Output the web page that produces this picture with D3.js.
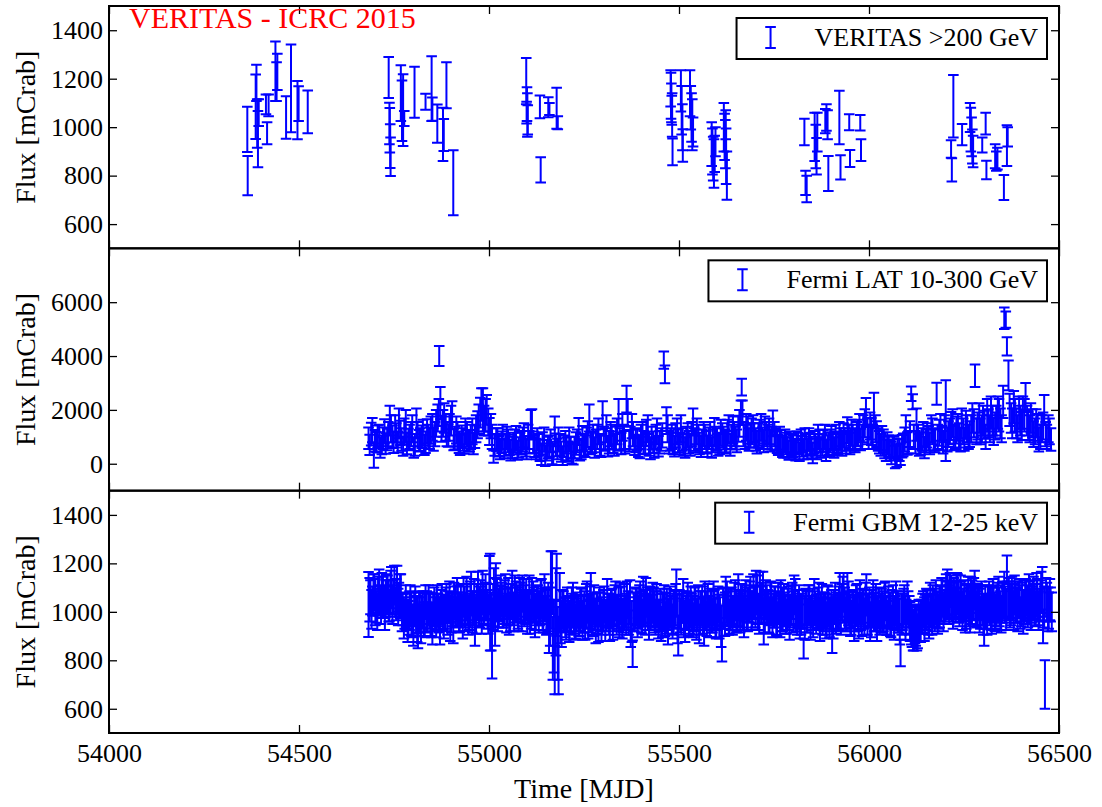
<!DOCTYPE html>
<html>
<head>
<meta charset="utf-8">
<script src="https://cdn.jsdelivr.net/npm/d3@7"></script>
<style>
  body { margin: 0; background: #fff; }
  text { font-family: "Liberation Serif", "DejaVu Serif", serif; fill: #000; }
</style>
</head>
<body>
<div id="chart"></div>
<script>
// 1: DATA  ([MJD, flux mCrab, error])
const veritasRows = [
  [54364, 991, 93], [54365, 800, 81], [54386, 1084, 133], [54388, 1183, 75], [54390, 1015, 100],
  [54392, 951, 116], [54394, 1060, 55], [54413, 1094, 41], [54416, 975, 45], [54420, 1090, 45],
  [54438, 1231, 123], [54441, 1188, 80], [54443, 1228, 75], [54466, 1040, 88], [54479, 1160, 181],
  [54496, 1070, 120], [54499, 1097, 72], [54523, 1063, 88],
  [54736, 1205, 85], [54738, 1015, 86], [54739, 987, 92], [54740, 922, 90], [54741, 878, 79],
  [54768, 1140, 115], [54771, 1068, 125], [54774, 1070, 148], [54777, 1036, 31], [54804, 1144, 105],
  [54833, 1105, 33], [54849, 1159, 134], [54851, 1074, 48], [54864, 1015, 79], [54879, 970, 110],
  [54881, 968, 66], [54888, 1173, 95], [54906, 771, 134],
  [55098, 1190, 95], [55099, 1060, 45], [55100, 1095, 70], [55101, 1050, 90], [55102, 1030, 60],
  [55134, 1084, 47], [55136, 824, 52], [55156, 1082, 41], [55159, 1075, 25], [55178, 1078, 85],
  [55181, 1018, 27],
  [55478, 1160, 75], [55479, 1130, 95], [55480, 1100, 80], [55481, 1070, 60], [55482, 1050, 90],
  [55483, 898, 55], [55505, 1150, 85], [55507, 1070, 100], [55509, 1000, 95], [55510, 924, 67],
  [55529, 1140, 95], [55531, 1080, 90], [55533, 1040, 100], [55535, 1010, 105], [55537, 980, 60],
  [55586, 930, 90], [55588, 900, 95], [55590, 870, 90], [55592, 850, 100], [55594, 890, 75],
  [55596, 940, 60], [55618, 1000, 100], [55620, 960, 95], [55622, 930, 100], [55623, 1010, 60],
  [55624, 880, 115], [55626, 800, 100],
  [55830, 980, 55], [55833, 770, 50], [55836, 745, 55], [55857, 960, 100], [55860, 920, 90],
  [55862, 880, 75], [55864, 980, 80], [55885, 1025, 50], [55888, 1040, 55], [55891, 1010, 60],
  [55893, 809, 72], [55922, 1040, 110], [55925, 834, 50], [55948, 1020, 33], [55950, 871, 35],
  [55977, 1018, 32], [55979, 905, 45],
  [56216, 910, 36], [56218, 824, 48], [56222, 1086, 129], [56245, 969, 44], [56266, 1040, 60],
  [56268, 990, 90], [56270, 960, 80], [56272, 920, 70], [56274, 900, 65], [56298, 926, 31],
  [56307, 1015, 45], [56309, 823, 38], [56332, 880, 50], [56335, 860, 40], [56338, 870, 45],
  [56355, 751, 52], [56363, 924, 84], [56365, 960, 40]
];

const latRowsA = [
  [54683,950,400],[54690,1100,420],[54697,300,450],[54704,800,380],[54711,1050,400],[54718,700,350],[54725,1200,450],[54732,900,400],[54739,1600,550],[54746,1000,420],
  [54753,1300,500],[54760,800,380],[54767,1150,450],[54774,650,350],[54781,1400,600],[54788,900,400],[54795,1100,450],[54802,600,380],[54809,1500,550],[54816,850,400],
  [54823,1000,420],[54830,700,380],[54837,1200,450],[54844,950,400],[54851,1350,500],[54858,1100,450],[54865,1700,500],[54869,4000,370],[54872,2250,600],[54879,1500,500],
  [54886,1300,450],[54893,1050,420],[54900,1600,550],[54907,900,400],[54914,1250,500],[54921,800,400],[54928,1000,420],[54935,750,380],[54942,1100,450],[54949,850,400],
  [54956,1200,480],[54963,1000,420],[54970,1450,500],[54977,1900,550],[54984,2000,800],[54991,1800,600],[54998,1550,500],[55005,1400,450],[55012,265,230],[55019,900,420],
  [55026,650,380],[55033,800,400],[55040,550,350],[55047,950,420],[55054,700,380],[55061,600,400],[55068,850,420],[55075,500,350],[55082,750,400],[55089,900,450],
  [55096,650,380],[55103,1000,450],[55110,1450,550],[55117,800,400],[55124,550,380],[55131,700,400],[55138,350,400],[55145,900,450],[55152,500,380],[55159,650,400],
  [55166,400,420],[55173,1200,550],[55180,550,380],[55187,700,400],[55194,300,350],[55201,800,420],[55208,450,380],[55215,600,400],[55222,350,380],[55229,750,420],
  [55236,1200,500],[55243,550,380],[55250,700,400],[55257,900,450],[55264,1700,500],[55271,800,400],[55278,600,380],[55285,1000,450],[55292,700,400],[55299,1800,520],
  [55306,900,420],[55313,650,380],[55320,1100,450],[55327,800,400],[55334,950,420],[55341,1900,500],[55348,750,400],[55355,1000,450],[55362,2400,500],[55369,850,400],
  [55376,1400,450],[55383,700,380],[55390,900,420],[55397,600,400],[55404,1100,450],[55411,750,400],[55418,1300,500],[55425,550,380],[55432,800,400],[55439,1000,450],
  [55446,650,380],[55453,900,420],[55460,3846,320],[55463,3320,330],[55467,1600,500],[55474,800,420],[55481,1000,450],[55488,650,380],[55495,1200,480],[55502,750,400],
  [55509,900,420],[55516,600,380],[55523,1050,450],[55530,700,400],[55537,1550,500],[55544,850,420],[55551,1000,450],[55558,650,400],[55565,1100,450],[55572,800,420],
  [55579,950,400],[55586,600,380],[55593,1200,500],[55600,900,420],[55607,750,400],[55614,1050,450],[55621,850,420],[55628,1150,480],[55635,700,400],[55642,1250,500],
  [55649,950,420],[55656,1300,480],[55663,1900,450],[55665,2845,310],[55670,1100,450],[55677,1350,500],[55684,900,420],[55691,1200,480],[55698,1050,450],[55705,800,420],
  [55712,1150,480],[55719,950,400],[55726,1250,500],[55733,1000,450],[55740,850,400],[55747,1500,480],[55754,900,420],[55761,700,380],[55768,850,400],[55775,600,380],
  [55782,750,400],[55789,500,350],[55796,700,400],[55803,550,380],[55810,800,400],[55817,450,350],[55824,650,380],[55831,900,420],[55838,550,380],[55845,750,400],
  [55852,400,380],[55859,700,400],[55866,1000,450],[55873,600,380],[55880,850,400],[55887,500,400],[55894,750,420],[55901,950,450],[55908,600,380],[55915,800,400],
  [55922,1100,450],[55929,700,400],[55936,900,420],[55943,1250,480],[55950,750,400],[55957,1000,450],[55964,850,420],[55971,1150,480],[55978,900,400],[55985,1300,500],
  [55992,1900,540],[55999,1000,450],[56006,1200,500],[56013,2000,640],[56020,1100,480],[56027,800,420],[56034,950,450],[56041,600,400],[56048,750,420],[56055,500,380],
  [56062,650,400],[56069,250,420],[56076,550,380],[56083,350,400],[56090,700,420],[56097,1300,500],[56104,800,420],[56111,2600,270],[56115,2300,280],[56118,1000,450],
  [56125,1450,600],[56132,700,400],[56139,900,420],[56146,600,400],[56153,1050,450],[56160,750,400],[56167,1200,480],[56174,850,420],[56178,2600,410],[56181,1000,450],
  [56188,1350,500],[56195,800,420],[56202,1600,1500],[56209,1100,480],[56216,1400,520],[56223,950,450],[56230,1250,500],[56237,1050,450],[56244,1500,550],[56251,900,420],
  [56258,1300,500],[56265,1100,480],[56272,1700,550],[56279,3270,420],[56286,1400,500],[56293,1200,480],[56300,1600,550],[56307,1000,450],[56314,1500,520],[56321,1900,600],
  [56328,1200,500],[56335,1600,550],[56342,1800,600],[56349,1300,500],[56356,5400,400],[56360,5350,300],[56363,4360,340],[56367,3280,550],[56370,2000,600],[56377,1500,550],
  [56384,1800,600],[56391,1300,500],[56398,1600,550],[56405,1900,600],[56412,2500,500],[56419,1400,520],[56426,1700,550],[56433,1100,480],[56440,1500,520],[56447,900,450],
  [56454,1300,500],[56461,2000,550],[56468,1000,450],[56475,1200,480]
];

const latRowsB = [
  [54686,700,380],[54693,1250,450],[54700,850,400],[54707,1000,420],[54714,600,380],[54721,950,400],[54728,750,380],[54735,1100,450],[54742,1300,500],[54749,800,400],
  [54756,1050,450],[54763,1500,550],[54770,900,420],[54777,1200,480],[54784,750,400],[54791,1000,450],[54798,1300,500],[54805,700,400],[54812,1100,450],[54819,900,420],
  [54826,1150,480],[54833,800,400],[54840,1000,450],[54847,1250,500],[54854,900,420],[54861,1500,500],[54868,1900,500],[54875,1300,480],[54882,1700,550],[54889,1100,450],
  [54896,1350,500],[54903,1800,520],[54910,950,420],[54917,1100,450],[54924,700,380],[54931,900,420],[54938,1200,480],[54945,850,400],[54952,1000,450],[54959,750,400],
  [54966,1300,500],[54973,1650,550],[54980,2200,600],[54987,1600,550],[54994,2000,550],[55001,1200,500],[55008,1000,450],[55015,700,400],[55022,900,420],[55029,550,380],
  [55036,1000,450],[55043,700,400],[55050,850,420],[55057,500,380],[55064,750,400],[55071,950,450],[55078,600,380],[55085,800,420],[55092,1050,450],[55099,550,380],
  [55106,800,420],[55113,1500,520],[55120,650,400],[55127,900,420],[55134,500,400],[55141,750,420],[55148,300,380],[55155,600,400],[55162,850,420],[55169,350,400],
  [55176,700,420],[55183,900,450],[55190,450,380],[55197,650,400],[55204,550,420],[55211,900,450],[55218,400,400],[55225,600,400],[55232,850,420],[55239,500,380],
  [55246,950,450],[55253,650,400],[55260,1100,480],[55267,750,400],[55274,1000,450],[55281,850,420],[55288,1200,480],[55295,650,400],[55302,950,420],[55309,1300,500],
  [55316,800,420],[55323,1000,450],[55330,700,400],[55337,1200,480],[55344,900,420],[55351,1350,500],[55358,800,420],[55365,1900,500],[55372,950,420],[55379,1100,450],
  [55386,850,420],[55393,650,400],[55400,1000,450],[55407,800,420],[55414,1150,480],[55421,700,400],[55428,950,420],[55435,600,380],[55442,1200,480],[55449,800,420],
  [55456,1050,450],[55470,1300,500],[55477,900,420],[55484,750,400],[55491,1050,450],[55498,850,420],[55505,1300,500],[55512,700,400],[55519,950,420],[55526,800,420],
  [55533,1100,450],[55540,900,420],[55547,1200,480],[55554,750,400],[55561,850,420],[55568,1000,450],[55575,650,400],[55582,1100,450],[55589,850,420],[55596,950,420],
  [55603,700,400],[55610,1150,480],[55617,950,420],[55624,800,420],[55631,1300,500],[55638,1000,450],[55645,1100,450],[55652,850,420],[55659,1500,500],[55667,1900,450],
  [55674,1000,450],[55681,1250,500],[55688,1050,450],[55695,1300,500],[55702,900,420],[55709,1050,450],[55716,1350,500],[55723,850,420],[55730,1100,450],[55737,1200,480],
  [55744,950,420],[55751,1100,450],[55758,800,400],[55765,950,420],[55772,650,400],[55779,850,420],[55786,600,380],[55793,800,400],[55800,650,400],[55807,500,380],
  [55814,750,400],[55821,850,420],[55828,550,380],[55835,700,400],[55842,900,420],[55849,600,400],[55856,800,420],[55863,550,380],[55870,850,420],[55877,700,400],
  [55884,1000,450],[55891,650,400],[55898,850,420],[55905,700,400],[55912,1000,450],[55919,750,400],[55926,900,420],[55933,1050,450],[55940,800,420],[55947,1000,450],
  [55954,1150,480],[55961,900,420],[55968,1100,450],[55975,1350,500],[55982,1000,450],[55989,1500,520],[55996,1200,480],[56003,1400,500],[56010,1000,450],[56017,1300,500],
  [56024,900,420],[56031,700,400],[56038,850,420],[56045,500,400],[56052,650,400],[56059,400,420],[56066,600,400],[56073,300,420],[56080,500,400],[56087,650,420],
  [56094,900,450],[56101,750,420],[56108,1100,480],[56122,800,420],[56129,1000,450],[56136,750,420],[56143,1100,450],[56150,850,420],[56157,950,450],[56164,1300,500],
  [56171,900,420],[56185,1150,480],[56192,950,450],[56199,1300,500],[56206,900,450],[56213,1200,480],[56220,1500,520],[56227,1000,450],[56234,1350,500],[56241,900,450],
  [56248,1200,480],[56255,1450,520],[56262,1000,450],[56269,1300,500],[56276,1500,520],[56283,1200,480],[56290,1700,550],[56297,1300,500],[56304,1450,520],[56311,1800,600],
  [56318,1300,500],[56325,1600,550],[56332,1400,500],[56339,1900,600],[56346,1500,550],[56353,2300,600],[56374,1700,550],[56381,2100,600],[56388,1500,550],[56395,1900,600],
  [56402,1400,520],[56409,1800,600],[56416,1600,550],[56423,1300,500],[56430,1500,520],[56437,1200,480],[56444,1350,500],[56451,1000,450],[56458,1400,500],[56465,1100,450],
  [56472,1300,500],[56479,900,420]
];

const gbmRowsA = [
  [54683,1030,134],[54688,1060,70],[54693,1045,60],[54698,1080,75],[54703,1020,65],[54708,1065,80],[54713,1040,55],[54718,1090,70],[54723,1035,60],[54728,1055,75],
  [54733,1070,80],[54738,1025,65],[54743,1100,85],[54748,1060,70],[54753,1040,60],[54758,1095,95],[54763,1050,70],[54768,1075,80],[54773,1010,65],[54778,990,60],
  [54783,1000,75],[54788,975,70],[54793,1030,80],[54798,960,65],[54803,1010,70],[54808,985,75],[54813,940,90],[54818,1020,60],[54823,995,65],[54828,970,70],
  [54833,1040,70],[54838,980,60],[54843,1005,75],[54848,965,70],[54853,1010,65],[54858,990,70],[54863,1030,80],[54868,975,60],[54873,1015,75],[54878,990,65],
  [54883,1000,70],[54888,1035,80],[54893,1020,65],[54898,970,90],[54903,1010,70],[54908,1045,75],[54913,1000,60],[54918,1025,85],[54923,985,70],[54928,1015,65],
  [54933,1060,80],[54938,990,70],[54943,1030,85],[54948,1000,75],[54953,1075,90],[54958,1015,70],[54963,960,100],[54968,1040,75],[54973,1010,70],[54978,1050,80],
  [54983,1080,90],[54988,1020,70],[54993,1045,75],[54998,990,80],[55003,1040,200],[55008,890,165],[55013,1060,120],[55018,1090,110],[55023,1000,80],[55028,1035,75],
  [55033,1050,70],[55038,1000,65],[55043,1070,85],[55048,1020,75],[55053,985,80],[55058,1045,70],[55063,1010,65],[55068,1060,90],[55073,1030,70],[55078,995,75],
  [55083,1040,80],[55088,1075,75],[55093,1010,70],[55098,1050,85],[55103,1020,65],[55108,980,70],[55113,1060,80],[55118,1030,70],[55123,1000,75],[55128,1045,65],
  [55133,1015,70],[55138,1055,80],[55143,990,75],[55148,1030,70],[55153,1000,90],[55158,940,110],[55163,1090,160],[55168,850,130],[55173,760,100],[55178,1070,170],
  [55183,820,160],[55188,980,110],[55193,1010,80],[55198,990,70],[55203,960,75],[55208,1000,65],[55213,975,70],[55218,1020,80],[55223,985,75],[55228,960,70],
  [55233,1000,65],[55238,970,70],[55243,1015,80],[55248,990,75],[55253,955,70],[55258,1040,85],[55263,1000,70],[55268,1060,100],[55273,975,75],[55278,990,65],
  [55283,1010,70],[55288,950,75],[55293,1000,80],[55298,975,70],[55303,1030,75],[55308,985,65],[55313,1005,70],[55318,960,80],[55323,1020,75],[55328,990,70],
  [55333,1045,80],[55338,1000,70],[55343,970,75],[55348,1020,85],[55353,985,70],[55358,1000,65],[55363,1050,75],[55368,975,70],[55373,930,75],[55378,827,55],
  [55383,990,70],[55388,1020,75],[55393,1000,65],[55398,1040,85],[55403,980,70],[55408,1015,75],[55413,1060,80],[55418,995,70],[55423,1030,75],[55428,1005,65],
  [55433,1020,80],[55438,975,70],[55443,1010,75],[55448,985,65],[55453,950,70],[55458,1000,75],[55463,970,70],[55468,1015,80],[55473,990,65],[55478,1005,70],
  [55483,960,70],[55488,1010,75],[55493,1080,95],[55498,900,80],[55503,985,70],[55508,1020,65],[55513,970,75],[55518,995,70],[55523,1040,80],[55528,980,70],
  [55533,1000,75],[55538,965,70],[55543,1025,80],[55548,990,65],[55553,950,80],[55558,1015,70],[55563,985,75],[55568,1040,85],[55573,970,70],[55578,1000,65],
  [55583,1020,75],[55588,985,70],[55593,1010,80],[55598,960,70],[55603,1030,75],[55608,995,65],[55613,870,75],[55618,1000,70],[55623,1060,85],[55628,1015,70],
  [55633,980,70],[55638,1025,75],[55643,1000,65],[55648,1050,80],[55653,990,70],[55658,1015,75],[55663,1045,70],[55668,1005,80],[55673,1035,75],[55678,990,65],
  [55683,1030,70],[55688,1060,85],[55693,1010,75],[55698,1040,70],[55703,1080,90],[55708,1000,75],[55713,1070,95],[55718,1030,75],[55723,960,95],[55728,1050,80],
  [55733,1020,70],[55738,985,75],[55743,1040,80],[55748,1005,70],[55753,1030,75],[55758,970,70],[55763,1015,65],[55768,1050,80],[55773,995,75],[55778,1010,70],
  [55783,980,70],[55788,1025,80],[55793,1000,65],[55798,1045,75],[55803,1070,80],[55808,990,70],[55813,1015,75],[55818,960,70],[55823,1000,65],[55828,848,41],
  [55833,1020,75],[55838,985,70],[55843,1030,80],[55848,1000,65],[55853,970,75],[55858,1015,70],[55863,990,65],[55868,1040,80],[55873,1005,70],[55878,980,75],
  [55883,1010,70],[55888,965,75],[55893,1025,80],[55898,995,65],[55903,940,110],[55908,1020,70],[55913,985,75],[55918,1000,70],[55923,1070,90],[55928,1040,75],
  [55933,1080,80],[55938,990,70],[55943,1060,100],[55948,1010,75],[55953,975,70],[55958,1020,65],[55963,995,75],[55968,1035,80],[55973,960,70],[55978,1000,75],
  [55983,1025,70],[55988,980,75],[55993,1070,85],[55998,1005,70],[56003,960,80],[56008,1015,75],[56013,990,70],[56018,1040,75],[56023,1000,65],[56028,975,70],
  [56033,1020,75],[56038,990,70],[56043,1045,80],[56048,975,70],[56053,1005,75],[56058,960,65],[56063,1030,80],[56068,995,70],[56073,1010,75],[56078,985,70],
  [56083,830,55],[56088,1000,75],[56093,1030,80],[56098,980,70],[56103,1010,75],[56108,960,80],[56113,940,85],[56118,910,70],[56123,935,75],[56128,920,70],
  [56133,950,75],[56138,980,70],[56143,1010,75],[56148,990,80],[56153,1020,70],[56158,965,75],[56163,1005,70],[56168,1030,80],[56173,985,65],[56178,1010,75],
  [56183,1000,70],[56188,1035,75],[56193,1060,80],[56198,1020,70],[56203,1070,85],[56208,1050,75],[56213,1090,70],[56218,1040,80],[56223,1065,75],[56228,1030,70],
  [56233,1075,80],[56238,1010,70],[56243,1050,75],[56248,1030,65],[56253,990,75],[56258,1045,70],[56263,1020,80],[56268,1070,75],[56273,1035,70],[56278,1090,80],
  [56283,1010,75],[56288,1040,70],[56293,995,65],[56298,1025,80],[56303,960,100],[56308,1000,70],[56313,1035,75],[56318,1010,65],[56323,985,75],[56328,1030,70],
  [56333,1000,70],[56338,1045,75],[56343,1020,80],[56348,990,75],[56353,1050,70],[56358,1030,75],[56363,1178,54],[56368,1060,80],[56373,1015,70],[56378,1040,75],
  [56383,1070,80],[56388,1025,70],[56393,1050,75],[56398,995,65],[56403,1040,80],[56408,1020,70],[56413,1060,75],[56418,1005,70],[56423,1045,80],[56428,1030,75],
  [56433,1065,80],[56438,1010,70],[56443,1050,85],[56448,1020,75],[56453,1080,85],[56458,940,70],[56463,700,100],[56468,1040,80],[56473,1005,75],[56478,1030,70]
];

const gbmRowsB = [
  [54686,1050,90],[54691,1010,80],[54696,1070,85],[54701,1040,95],[54706,1000,75],[54711,1085,90],[54716,1030,80],[54721,1060,85],[54726,1015,90],[54731,1075,80],
  [54736,1045,85],[54741,1080,90],[54746,1030,80],[54751,1110,80],[54756,1050,85],[54761,1020,75],[54766,1065,90],[54771,1000,80],[54776,975,85],[54781,1020,90],
  [54786,960,85],[54791,1005,80],[54796,990,90],[54801,945,85],[54806,1025,80],[54811,970,95],[54816,1000,85],[54821,950,80],[54826,1010,75],[54831,985,90],
  [54836,1000,85],[54841,1030,80],[54846,990,90],[54851,950,85],[54856,1020,80],[54861,985,90],[54866,1000,75],[54871,960,95],[54876,1035,80],[54881,975,85],
  [54886,1010,90],[54891,985,80],[54896,1040,85],[54901,995,80],[54906,960,90],[54911,1020,85],[54916,1050,90],[54921,1000,80],[54926,1030,85],[54931,980,90],
  [54936,1020,85],[54941,1055,90],[54946,985,80],[54951,1030,95],[54956,1000,85],[54961,1045,90],[54966,990,80],[54971,1070,95],[54976,1020,85],[54981,1000,90],
  [54986,1030,85],[54991,1060,95],[54996,1010,80],[55001,1110,120],[55006,960,120],[55011,1020,95],[55016,1000,140],[55021,1050,85],[55026,1015,80],[55031,1060,90],
  [55036,1020,85],[55041,1040,90],[55046,995,80],[55051,1055,85],[55056,1010,90],[55061,1075,95],[55066,1000,80],[55071,1040,85],[55076,1020,90],[55081,1060,80],
  [55086,1005,85],[55091,1045,90],[55096,1030,80],[55101,995,85],[55106,1060,90],[55111,1010,80],[55116,1040,85],[55121,985,90],[55126,1025,80],[55131,1000,85],
  [55136,1040,90],[55141,1010,85],[55146,1060,95],[55151,985,80],[55156,1020,100],[55161,980,120],[55166,1120,130],[55171,900,150],[55176,1000,180],[55181,870,150],
  [55186,1040,120],[55191,950,95],[55196,1000,85],[55201,975,80],[55206,1010,90],[55211,960,85],[55216,995,80],[55221,1030,90],[55226,970,85],[55231,1000,80],
  [55236,985,85],[55241,1010,90],[55246,965,80],[55251,1000,85],[55256,1025,90],[55261,970,80],[55266,1010,95],[55271,990,85],[55276,1030,80],[55281,960,90],
  [55286,995,85],[55291,1020,80],[55296,970,90],[55301,1005,85],[55306,960,80],[55311,1040,95],[55316,990,85],[55321,1010,80],[55326,975,90],[55331,1025,85],
  [55336,985,80],[55341,1010,90],[55346,1035,85],[55351,970,80],[55356,1020,95],[55361,990,85],[55366,1005,80],[55371,1040,90],[55376,960,85],[55381,1000,80],
  [55386,1015,85],[55391,985,90],[55396,1030,80],[55401,1000,85],[55406,1050,95],[55411,990,85],[55416,1020,80],[55421,975,90],[55426,1010,85],[55431,1040,80],
  [55436,1000,85],[55441,1025,90],[55446,970,80],[55451,1010,85],[55456,985,90],[55461,1030,80],[55466,995,85],[55471,960,95],[55476,1020,85],[55481,985,80],
  [55486,1000,90],[55491,1030,85],[55496,970,100],[55501,1010,80],[55506,990,85],[55511,1045,90],[55516,960,85],[55521,1005,80],[55526,990,90],[55531,1020,85],
  [55536,985,80],[55541,1010,90],[55546,970,85],[55551,1030,80],[55556,995,90],[55561,1020,85],[55566,960,100],[55571,1005,80],[55576,1025,90],[55581,980,85],
  [55586,1000,85],[55591,1035,90],[55596,975,80],[55601,1010,85],[55606,980,90],[55611,940,85],[55616,1020,80],[55621,990,90],[55626,1040,85],[55631,1000,95],
  [55636,1010,85],[55641,985,80],[55646,1030,90],[55651,1000,85],[55656,1060,95],[55661,995,80],[55666,1025,90],[55671,980,85],[55676,1050,80],[55681,1010,90],
  [55686,1040,85],[55691,1005,80],[55696,1065,90],[55701,1020,85],[55706,1050,100],[55711,990,80],[55716,1035,85],[55721,1075,90],[55726,1000,85],[55731,1030,80],
  [55736,1000,85],[55741,1035,90],[55746,975,80],[55751,1020,85],[55756,995,90],[55761,1040,80],[55766,980,85],[55771,1010,90],[55776,1030,85],[55781,990,80],
  [55786,1010,85],[55791,975,90],[55796,1030,80],[55801,1000,85],[55806,1040,95],[55811,985,80],[55816,1020,90],[55821,990,85],[55826,1010,80],[55831,975,90],
  [55836,1000,85],[55841,1030,80],[55846,975,90],[55851,1010,85],[55856,1045,90],[55861,990,80],[55866,1015,85],[55871,970,90],[55876,1030,85],[55881,1000,80],
  [55886,990,85],[55891,1020,90],[55896,975,80],[55901,1005,85],[55906,980,90],[55911,1035,85],[55916,1000,80],[55921,1015,90],[55926,990,85],[55931,1050,95],
  [55936,1015,85],[55941,1000,80],[55946,1035,90],[55951,985,85],[55956,1010,80],[55961,970,90],[55966,1025,85],[55971,1000,80],[55976,1040,90],[55981,985,85],
  [55986,1010,80],[55991,1030,90],[55996,990,85],[56001,1020,80],[56006,985,90],[56011,1045,85],[56016,1000,80],[56021,970,90],[56026,1015,85],[56031,995,80],
  [56036,1000,85],[56041,1030,90],[56046,985,80],[56051,1020,85],[56056,990,90],[56061,1010,80],[56066,970,85],[56071,1035,90],[56076,1000,85],[56081,960,95],
  [56086,990,85],[56091,1015,80],[56096,975,90],[56101,1040,85],[56106,985,80],[56111,955,90],[56116,925,85],[56121,950,80],[56126,930,90],[56131,965,85],
  [56136,960,85],[56141,995,80],[56146,970,90],[56151,1010,85],[56156,985,80],[56161,1030,90],[56166,990,85],[56171,1015,80],[56176,1040,90],[56181,995,85],
  [56186,1020,85],[56191,1050,90],[56196,1000,80],[56201,1045,85],[56206,1080,95],[56211,1030,80],[56216,1060,90],[56221,1015,85],[56226,1050,80],[56231,1070,90],
  [56236,1040,85],[56241,1060,90],[56246,1005,80],[56251,1045,85],[56256,1020,90],[56261,1065,80],[56266,1000,85],[56271,1040,90],[56276,1055,85],[56281,1020,80],
  [56286,1030,85],[56291,1005,90],[56296,1045,80],[56301,990,85],[56306,1020,90],[56311,985,80],[56316,1040,85],[56321,1015,90],[56326,1050,85],[56331,1000,80],
  [56336,1025,85],[56341,1055,90],[56346,1005,80],[56351,1040,85],[56356,1070,95],[56361,1010,85],[56366,1045,80],[56371,1025,90],[56376,1060,85],[56381,1005,80],
  [56386,1040,85],[56391,1010,90],[56396,1055,80],[56401,1025,85],[56406,1000,90],[56411,1045,85],[56416,1030,80],[56421,1065,90],[56426,1010,85],[56431,1050,80],
  [56436,1030,85],[56441,1070,90],[56446,1005,80],[56451,1045,85],[56456,1090,95],[56461,1020,85],[56466,1060,80],[56471,1010,90],[56476,1050,85],[56481,1000,80]
];

const latRows = latRowsA.concat(latRowsB);
const gbmRows = gbmRowsA.concat(gbmRowsB);

const xTicks = [54000, 54500, 55000, 55500, 56000, 56500];
const veritasTicks = [600, 800, 1000, 1200, 1400];
const latTicks = [0, 2000, 4000, 6000];
const gbmTicks = [600, 800, 1000, 1200, 1400];
const legendLabels = ["VERITAS >200 GeV", "Fermi LAT 10-300 GeV", "Fermi GBM 12-25 keV"];

// 2: LAYOUT
const margin = { top: 6, right: 43, bottom: 74, left: 109 },
      width = 1102 - margin.left - margin.right,
      height = 807 - margin.top - margin.bottom,
      panelH = height / 3;

const blue = "#0000ff";
const serif = '"Liberation Serif", "DejaVu Serif", serif';
const capHalf = 5.3;

const svg = d3.select("#chart")
    .append("svg")
    .attr("width", 1102)
    .attr("height", 807)
    .append("g")
    .attr("transform", `translate(${margin.left},${margin.top})`);

const xScale = d3.scaleLinear()
    .domain([54000, 56500])
    .range([0, width]);

const panels = [
    { rows: veritasRows, domain: [500, 1500], ticks: veritasTicks, label: legendLabels[0] },
    { rows: latRows, domain: [-1000, 8000], ticks: latTicks, label: legendLabels[1] },
    { rows: gbmRows, domain: [500, 1500], ticks: gbmTicks, label: legendLabels[2] }
];

function styleAxis(g) {
    g.select(".domain").remove();
    g.attr("font-family", serif);
    g.selectAll(".tick line").attr("stroke", "#000").attr("stroke-width", 1.3);
    g.selectAll(".tick text")
        .style("font-family", serif)
        .style("font-size", "26px")
        .attr("fill", "#000");
}

function errPath(px, yTop, yBot) {
    return `M${px - capHalf},${yTop}H${px + capHalf}M${px},${yTop}V${yBot}M${px - capHalf},${yBot}H${px + capHalf}`;
}

panels.forEach((p, i) => {
    const pg = svg.append("g").attr("transform", `translate(0,${i * panelH})`);
    const yScale = d3.scaleLinear().domain(p.domain).range([panelH, 0]);

    pg.append("clipPath").attr("id", `clip${i}`)
        .append("rect").attr("width", width).attr("height", panelH);

    // 3: ERROR BARS
    pg.append("g")
        .attr("clip-path", `url(#clip${i})`)
        .selectAll("path.eb")
        .data(p.rows)
        .join("path")
        .attr("class", "eb")
        .attr("d", d => errPath(xScale(d[0]), yScale(d[1] + d[2]), yScale(d[1] - d[2])))
        .attr("fill", "none")
        .attr("stroke", blue)
        .attr("stroke-width", 2);

    // 4: AXES (inward ticks on all sides)
    pg.append("g")
        .call(d3.axisLeft(yScale).tickValues(p.ticks).tickSize(-8).tickPadding(6).tickFormat(d3.format("d")))
        .call(styleAxis);
    pg.append("g")
        .attr("transform", `translate(${width},0)`)
        .call(d3.axisRight(yScale).tickValues(p.ticks).tickSize(-8).tickFormat(""))
        .call(styleAxis);
    pg.append("g")
        .call(d3.axisTop(xScale).tickValues(xTicks).tickSize(-8).tickFormat(""))
        .call(styleAxis);
    pg.append("g")
        .attr("transform", `translate(0,${panelH})`)
        .call(d3.axisBottom(xScale).tickValues(xTicks).tickSize(-8).tickPadding(11)
            .tickFormat(i === 2 ? d3.format("d") : ""))
        .call(styleAxis);

    pg.append("rect")
        .attr("width", width)
        .attr("height", panelH)
        .attr("fill", "none")
        .attr("stroke", "#000")
        .attr("stroke-width", 2);

    // y label
    pg.append("text")
        .attr("transform", `translate(${-74},${panelH / 2}) rotate(-90)`)
        .attr("text-anchor", "middle")
        .style("font-size", "28px")
        .text("Flux [mCrab]");

    // 5: LEGEND
    const lg = pg.append("g").attr("transform", `translate(0,12)`);
    const box = lg.append("rect").attr("y", 0).attr("height", 41)
        .attr("fill", "#fff").attr("stroke", "#000").attr("stroke-width", 2);
    const lt = lg.append("text")
        .attr("y", 28)
        .style("font-size", "26px")
        .text(p.label);
    const tw = lt.node().getComputedTextLength();
    const textStart = width - 21 - tw;
    lt.attr("x", textStart);
    const iconX = textStart - 44;
    lg.append("path")
        .attr("d", errPath(iconX, 9, 30))
        .attr("fill", "none")
        .attr("stroke", blue)
        .attr("stroke-width", 2);
    box.attr("x", iconX - 34).attr("width", width - 12 - (iconX - 34));
});

// 6: LABELS
svg.append("text")
    .attr("x", width / 2)
    .attr("y", height + 65)
    .attr("text-anchor", "middle")
    .style("font-size", "28px")
    .text("Time [MJD]");

svg.append("text")
    .attr("x", 20)
    .attr("y", 22)
    .style("font-size", "30px")
    .style("fill", "#ff0000")
    .text("VERITAS - ICRC 2015");
</script>
</body>
</html>
